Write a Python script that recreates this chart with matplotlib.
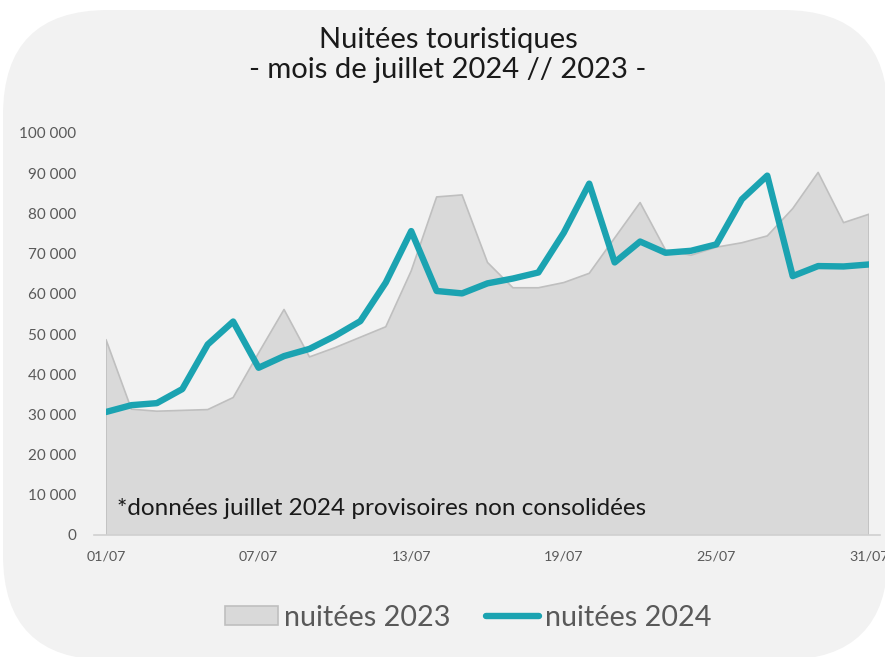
import matplotlib
matplotlib.use("Agg")
import matplotlib.pyplot as plt
from matplotlib.patches import FancyBboxPatch, Patch
from matplotlib.lines import Line2D
from matplotlib.transforms import IdentityTransform
import numpy as np

# ---- data ----
days = list(range(1, 32))
day_labels = [f"{d:02d}/07" for d in days]
tick_days = [1, 7, 13, 19, 25, 31]
nuitees_2023 = [48600, 31300, 30800, 31000, 31200, 34200, 45300, 56100, 44300, 46600,
                49200, 51800, 65700, 84100, 84600, 67800, 61500, 61500, 62800, 65100,
                73900, 82700, 70900, 69600, 71600, 72700, 74400, 81200, 90200, 77700,
                79800]
nuitees_2024 = [30600, 32300, 32800, 36300, 47400, 53100, 41600, 44500, 46300, 49500,
                53200, 62800, 75600, 60700, 60100, 62600, 63800, 65300, 75200, 87400,
                67800, 73000, 70200, 70700, 72300, 83500, 89400, 64400, 66900, 66800,
                67300]
title = "Nuitées touristiques\n- mois de juillet 2024 // 2023 -"
note = "*données juillet 2024 provisoires non consolidées"
legend_labels = ["nuitées 2023", "nuitées 2024"]

W, H = 885, 657
DPI = 100
FONT = "Lato"
plt.rcParams['font.family'] = [FONT, 'DejaVu Sans']

fig = plt.figure(figsize=(W / DPI, H / DPI), dpi=DPI)
fig.patch.set_facecolor("white")

# rounded background
bg = FancyBboxPatch((3 + 105, H - 660 + 105), (888 - 3) - 210, (660 - 10) - 210,
                    boxstyle="round,pad=105", transform=IdentityTransform(),
                    facecolor="#f2f2f2", edgecolor="none", zorder=-5)
fig.add_artist(bg)

left, right = 106 / W, 869 / W
bottom, top = (H - 535) / H, (H - 133) / H
ax = fig.add_axes([left, bottom, right - left, top - bottom])
ax.set_facecolor("none")

ax.fill_between(days, nuitees_2023, 0, facecolor="#d9d9d9", edgecolor="none", zorder=1)
xs = [days[0]] + days + [days[-1]]
ys = [0] + nuitees_2023 + [0]
ax.plot(xs, ys, color="#bfbfbf", lw=1.2, zorder=2)
ax.plot(days, nuitees_2024, color="#1ba3b1", lw=4.6, solid_joinstyle="round",
        solid_capstyle="round", zorder=3)

ax.set_xlim(days[0], days[-1])
ax.set_ylim(0, 100000)
ax.set_yticks(np.arange(0, 100001, 10000))
ax.set_yticklabels([f"{v:,}".replace(",", " ") for v in range(0, 100001, 10000)])
ax.set_xticks(tick_days)
ax.set_xticklabels([day_labels[d - 1] for d in tick_days])
for s in ax.spines.values():
    s.set_visible(False)
ax.tick_params(axis="y", length=0, pad=21.6, labelsize=11, labelcolor="#595959")
ax.tick_params(axis="x", length=0, pad=11.5, labelsize=10.3, labelcolor="#595959")

# axis line (extends a bit beyond the plot)
ax.plot([-0.016, 1.014], [0, 0], transform=ax.transAxes, color="#d0d0d0", lw=1.2,
        clip_on=False, zorder=4)

ax.text(0.0145, 0.067, note, transform=ax.transAxes, fontsize=17.5, color="#1a1a1a",
        va="center", ha="left", zorder=5)

fig.text(448 / W, (H - 55) / H, title, ha="center", va="center", fontsize=21,
         color="#1a1a1a", linespacing=1.22)

handles = [Patch(facecolor="#d9d9d9", edgecolor="#bfbfbf", lw=1.2),
           Line2D([], [], color="#1ba3b1", lw=4.6, solid_capstyle="round")]
fig.legend(handles, legend_labels, loc="center", bbox_to_anchor=(468 / W, (H - 618) / H),
           ncol=2, frameon=False, fontsize=20.7, labelcolor="#595959",
           handlelength=1.85, handleheight=0.65, handletextpad=0.2, columnspacing=1.25)

fig.savefig("out.png", dpi=DPI, facecolor="white")
